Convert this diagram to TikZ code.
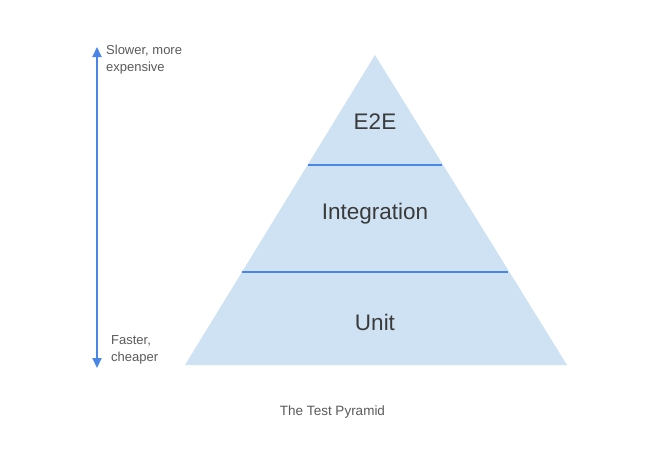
\documentclass[tikz,border=0pt]{standalone}
\usepackage{fontspec}
\setmainfont{Liberation Sans}
\usetikzlibrary{arrows.meta}
\definecolor{pyrfill}{HTML}{CFE2F3}
\definecolor{pyrline}{HTML}{4A86E8}
\definecolor{pyrtext}{HTML}{3A3A3A}
\definecolor{captext}{HTML}{5A5A5A}
\tikzset{
  layer/.style={font=\fontsize{22.5}{26}\selectfont, text=pyrtext, inner sep=0pt},
  side/.style={font=\fontsize{13}{17}\selectfont, text=captext, align=left, anchor=west, inner sep=0pt},
  sep/.style={draw=pyrline, line width=2pt},
  axis/.style={draw=pyrline, line width=2pt, {Triangle[width=9pt,length=10pt]}-{Triangle[width=9pt,length=10pt]}}
}
\begin{document}
\begin{tikzpicture}[x=1pt,y=-1pt]
\useasboundingbox (0,0) rectangle (672,453);
\fill[white] (0,0) rectangle (672,453);
% pyramid
\coordinate (apex) at (375,55);
\coordinate (bl) at (185,365);
\coordinate (br) at (567,365);
\fill[pyrfill] (apex) -- (br) -- (bl) -- cycle;
\coordinate (l1a) at (307.6,165);
\coordinate (l1b) at (442.4,165);
\coordinate (l2a) at (242.3,272);
\coordinate (l2b) at (507.7,272);
\draw[sep] (l1a) -- (l1b);
\draw[sep] (l2a) -- (l2b);
\node[layer] (e2e) at (375,122) {E2E};
\node[layer] (integ) at (375,214) {Integration};
\node[layer] (unit) at (375,322) {Unit};
% axis
\coordinate (top) at (97,47);
\coordinate (bot) at (97,368);
\draw[axis] (top) -- (bot);
\node[side] (slow) at (106,60) {Slower, more\\expensive};
\node[side] (fast) at (111,350) {Faster,\\cheaper};
% caption
\node[font=\fontsize{13.5}{16}\selectfont, text=captext, inner sep=0pt] (cap) at (332.5,412) {The Test Pyramid};
\end{tikzpicture}
\end{document}
